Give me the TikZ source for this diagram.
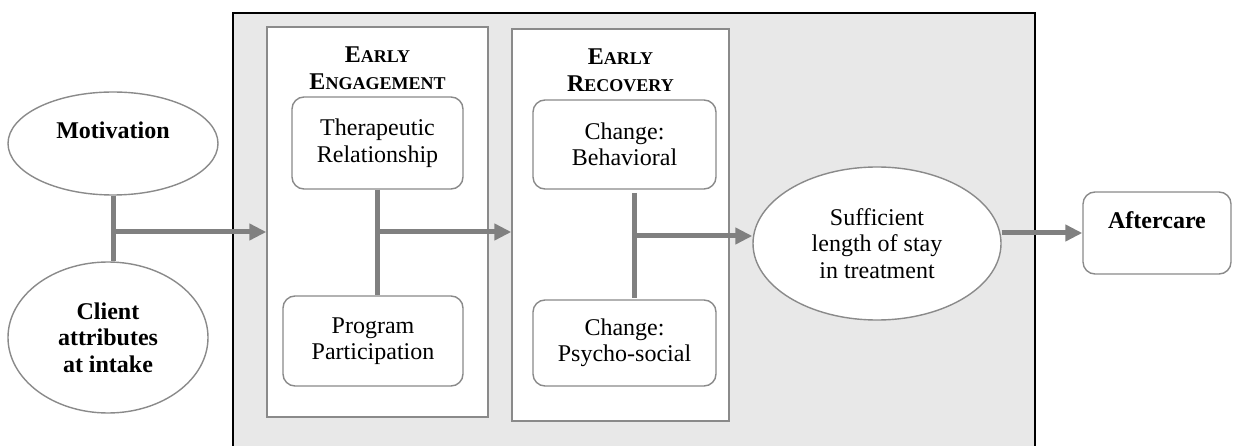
\documentclass[tikz,border=0pt]{standalone}
\usepackage{fontspec}
\setmainfont{Liberation Serif}
\usetikzlibrary{arrows.meta}
\usetikzlibrary{shapes.geometric}
\definecolor{framegray}{HTML}{E8E8E8}
\definecolor{edgegray}{HTML}{8A8A8A}
\definecolor{linkgray}{HTML}{808080}
\newcommand{\fakesc}[2]{#1{\fontsize{18}{20}\selectfont #2}}

\begin{document}
\begin{tikzpicture}[x=1pt,y=-1pt,
    every node/.style={font=\fontsize{24}{26.5}\selectfont},
    bubble/.style={ellipse,draw=edgegray,line width=1.4pt,fill=white,
      inner sep=0pt,align=center},
    stage/.style={rectangle,draw=edgegray,line width=1.4pt,fill=white},
    item/.style={rectangle,rounded corners=12pt,draw=edgegray,
      line width=1.4pt,fill=white,inner sep=0pt,align=center},
    title/.style={align=center,font=\fontsize{24}{27}\selectfont\bfseries},
    link/.style={draw=linkgray,line width=5pt},
    flow/.style={link,-{Triangle[length=17pt,width=16pt]}}]
    \useasboundingbox (0,0) rectangle (1233,446);
    % treatment frame
    \fill[framegray,draw=black,line width=1.5pt] (233,13) rectangle (1035,470);
    % intake
    \node[bubble,minimum width=210pt,minimum height=103pt,
      font=\fontsize{24}{26.5}\selectfont\bfseries,text height=15pt,text depth=24pt]
      (mot) at (113,143.5) {Motivation};
    \node[bubble,minimum width=200pt,minimum height=151pt,
      font=\fontsize{24}{26.5}\selectfont\bfseries]
      (cli) at (108,337.5) {Client\\attributes\\at intake};
    % early engagement
    \node[stage,minimum width=221pt,minimum height=390pt] (ee) at (377.5,222) {};
    \node[title] (eet) at (377.5,68) {\fakesc{E}{ARLY}\\\fakesc{E}{NGAGEMENT}};
    \node[item,minimum width=171pt,minimum height=92pt] (ther) at (377.5,143)
      {Therapeutic\\Relationship};
    \node[item,minimum width=180pt,minimum height=90pt] (prog) at (373,341)
      {Program\\Participation};
    % early recovery
    \node[stage,minimum width=217pt,minimum height=392pt] (er) at (620.5,225) {};
    \node[title] (ert) at (620.5,70) {\fakesc{E}{ARLY}\\\fakesc{R}{ECOVERY}};
    \node[item,minimum width=183pt,minimum height=89pt] (beh) at (624.5,144.5)
      {Change:\\Behavioral};
    \node[item,minimum width=183pt,minimum height=86pt] (psy) at (624.5,343)
      {Change:\\Psycho-social};
    % outcome
    \node[bubble,minimum width=248pt,minimum height=153pt] (suf) at (877,243.5)
      {Sufficient\\length of stay\\in treatment};
    \node[item,minimum width=148pt,minimum height=82pt,
      font=\fontsize{24}{26.5}\selectfont\bfseries,text height=15pt,text depth=23pt]
      (aft) at (1157,233) {Aftercare};
    % connectors
    \coordinate (j1) at (113,232);
    \coordinate (j2) at (377,232);
    \coordinate (b3) at (634,193);
    \coordinate (t3) at (634,298);
    \coordinate (j3) at (634,236);
    \draw[link] (mot.south) -- (mot.south |- cli.north);
    \draw[flow] (j1) -- (j1 -| ee.west);
    \draw[link] (ther.south) -- (ther.south |- prog.north);
    \draw[flow] (j2) -- (j2 -| er.west);
    \draw[link] (b3) -- (t3);
    \draw[flow] (j3) -- (suf.west |- j3);
    \draw[flow] (suf.east |- aft.west) -- (aft.west);
\end{tikzpicture}
\end{document}
